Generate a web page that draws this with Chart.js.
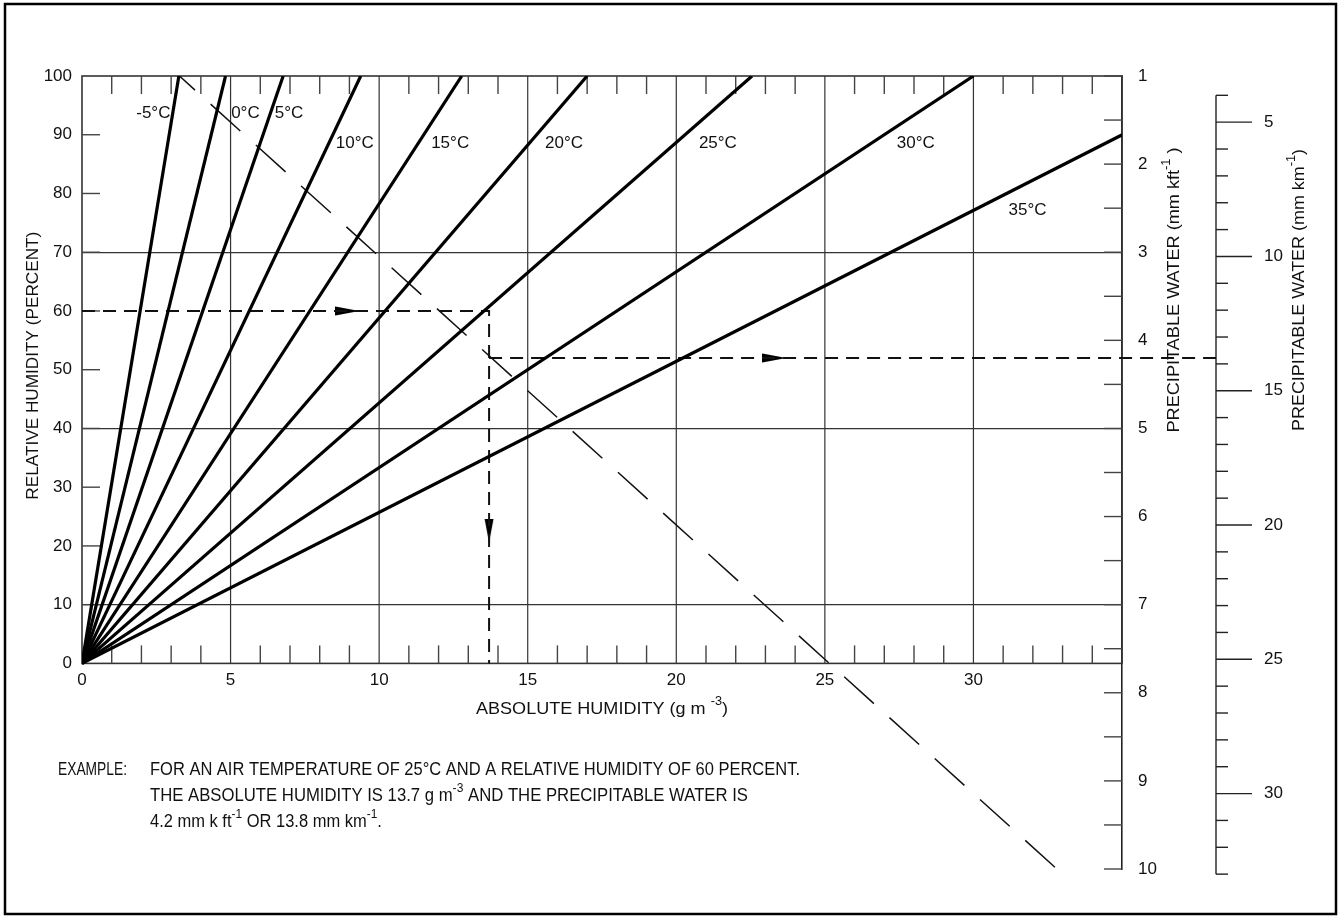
<!DOCTYPE html>
<html>
<head>
<meta charset="utf-8">
<script src="https://cdn.jsdelivr.net/npm/chart.js@4.4.0/dist/chart.umd.min.js"></script>
<style>
  body { margin: 0; background: #fff; }
  canvas { display: block; }
</style>
</head>
<body>
<canvas id="chart" width="1338" height="917"></canvas>
<script>
// saturation lines: temperature -> absolute humidity at 100 % RH (g m-3)
const tempLabels = ['-5°C', '0°C', '5°C', '10°C', '15°C', '20°C', '25°C', '30°C', '35°C'];
const satHumidity = [3.26, 4.83, 6.77, 9.38, 12.78, 17.0, 22.55, 30.0, 38.9];
// where each temperature label sits (absolute humidity, RH)
const labelX = [2.4, 5.5, 6.97, 9.18, 12.39, 16.22, 21.4, 28.06, 31.82];
const labelY = [93.6, 93.6, 93.6, 88.6, 88.6, 88.6, 88.6, 88.6, 77.1];

// axes
const xTicks = [0, 5, 10, 15, 20, 25, 30];
const xGrid = [5, 10, 15, 20, 25, 30];
const rhTicks = [0, 10, 20, 30, 40, 50, 60, 70, 80, 90, 100];
const rhGrid = [10, 40, 70];
const kftTicks = [1, 2, 3, 4, 5, 6, 7, 8, 9, 10];
const kmLabels = [5, 10, 15, 20, 25, 30];
const kmRange = [4, 33];

// conversion line: absolute humidity -> precipitable water (mm kft-1)
const convHumidity = [3.28, 32.81];
const convWater = [1, 10];

// worked example
const exampleHumidity = 13.7;
const exampleRH = 60;
const exampleWater = 4.2;
const waterLineEnd = 38.2;
const arrowRH = [{x: 8.93, y: 60}, {x: 13.7, y: 22.6}];
const arrowRHAngle = [0, 90];
const arrowWater = [{x: 23.3, y: 4.2}];

const FONT = "'Liberation Sans', Arial, sans-serif";
const INK = '#111';

function makeArrow() {
    const c = document.createElement('canvas');
    c.width = 24;
    c.height = 10;
    const g = c.getContext('2d');
    g.fillStyle = '#000';
    g.beginPath();
    g.moveTo(0, 0.5);
    g.lineTo(24, 5);
    g.lineTo(0, 9.5);
    g.closePath();
    g.fill();
    return c;
}
const arrow = makeArrow();

// text with superscripts; squeezed to a target width or by a factor
function richText(ctx, parts, x, y, opt = {}) {
    const size = opt.size || 17;
    const base = `${size}px ${FONT}`;
    const small = `${Math.round(size * 0.72)}px ${FONT}`;
    let w = 0;
    parts.forEach(([t, sup]) => {
        ctx.font = sup ? small : base;
        w += ctx.measureText(t).width;
    });
    const sx = opt.width ? opt.width / w : (opt.sx || 1);
    ctx.save();
    ctx.translate(x, y);
    if (opt.rotate) ctx.rotate(opt.rotate);
    ctx.scale(sx, 1);
    ctx.fillStyle = INK;
    ctx.textAlign = 'left';
    ctx.textBaseline = 'middle';
    let cx = opt.align === 'center' ? -w / 2 : 0;
    parts.forEach(([t, sup]) => {
        ctx.font = sup ? small : base;
        ctx.fillText(t, cx, sup ? -size * 0.42 : 0);
        cx += ctx.measureText(t).width;
    });
    ctx.restore();
    return sx;
}

function seg(ctx, x1, y1, x2, y2) {
    ctx.beginPath();
    ctx.moveTo(x1, y1);
    ctx.lineTo(x2, y2);
    ctx.stroke();
}

// keep the label overhang of the vertical scales from shrinking the plot
function fixScale(width) {
    return s => {
        s.width = width;
        s.paddingTop = 0;
        s.paddingBottom = 0;
    };
}

const decor = {
    id: 'decor',
    beforeDraw(chart) {
        const {ctx} = chart;
        ctx.save();
        ctx.strokeStyle = '#000';
        ctx.lineWidth = 2.5;
        ctx.strokeRect(5, 4, 1331, 910);
        ctx.restore();
    },
    beforeDatasetsDraw(chart) {
        const {ctx, scales: {x, y, y2, y3}} = chart;
        const top = y.getPixelForValue(100);
        const bottom = y.getPixelForValue(0);
        const left = x.getPixelForValue(0);
        const right = x.getPixelForValue(35);
        ctx.save();
        ctx.strokeStyle = '#333';
        ctx.lineWidth = 1.2;
        xGrid.forEach(v => {
            const px = x.getPixelForValue(v);
            seg(ctx, px, top, px, bottom);
        });
        ctx.lineWidth = 1.6;
        ctx.strokeRect(left, top, right - left, bottom - top);

        // inward tick marks
        ctx.lineWidth = 1.4;
        ctx.strokeStyle = '#444';
        for (let v = 1; v < 35; v++) {
            if (v % 5 === 0) continue;
            const px = x.getPixelForValue(v);
            seg(ctx, px, top, px, top + 18);
            seg(ctx, px, bottom, px, bottom - 18);
        }
        rhTicks.forEach(v => {
            if (v === 0 || v === 100) return;
            const py = y.getPixelForValue(v);
            seg(ctx, left, py, left + 18, py);
        });
        for (let v = kftTicks[0]; v <= kftTicks[kftTicks.length - 1]; v += 0.5) {
            const py = y2.getPixelForValue(v);
            seg(ctx, right - 18, py, right, py);
        }

        // km scale: axis line and outward ticks
        const kx = y3.left;
        ctx.strokeStyle = '#222';
        seg(ctx, kx, y3.getPixelForValue(kmRange[0]), kx, y3.getPixelForValue(kmRange[1]));
        for (let v = kmRange[0]; v <= kmRange[1]; v++) {
            const py = y3.getPixelForValue(v);
            seg(ctx, kx, py, kx + (v % 5 === 0 ? 36 : 12), py);
        }
        ctx.restore();
    },
    afterDraw(chart) {
        const {ctx, scales: {x, y, y3}} = chart;
        ctx.save();
        ctx.fillStyle = INK;
        ctx.font = `17px ${FONT}`;
        ctx.textAlign = 'center';
        ctx.textBaseline = 'middle';
        tempLabels.forEach((t, i) => {
            ctx.fillText(t, x.getPixelForValue(labelX[i]), y.getPixelForValue(labelY[i]));
        });
        ctx.restore();

        const midX = (x.left + x.right) / 2;
        richText(ctx, [['ABSOLUTE HUMIDITY (g m ', 0], ['-3', 1], [')', 0]], midX, 709,
            {align: 'center', width: 252});
        richText(ctx, [['RELATIVE HUMIDITY (PERCENT)', 0]], 33, y.getPixelForValue(50) - 4,
            {align: 'center', width: 268, rotate: -Math.PI / 2});
        richText(ctx, [['PRECIPITABLE WATER (mm kft', 0], ['-1', 1], [' )', 0]], x.right + 52, 290,
            {align: 'center', width: 285, rotate: -Math.PI / 2});
        richText(ctx, [['PRECIPITABLE WATER (mm km', 0], ['-1', 1], [')', 0]], y3.left + 83, 290,
            {align: 'center', width: 282, rotate: -Math.PI / 2});

        const ex = {size: 18};
        richText(ctx, [['EXAMPLE:', 0]], 58, 770, {...ex, width: 69});
        const sx = richText(ctx, [['FOR AN AIR TEMPERATURE OF 25°C AND A RELATIVE HUMIDITY OF 60 PERCENT.', 0]],
            150, 770, {...ex, width: 650});
        richText(ctx, [['THE ABSOLUTE HUMIDITY IS 13.7 g m', 0], ['-3', 1], [' AND THE PRECIPITABLE WATER IS', 0]],
            150, 796, {...ex, width: 598});
        richText(ctx, [['4.2 mm k ft', 0], ['-1', 1], [' OR 13.8 mm km', 0], ['-1', 1], ['.', 0]],
            150, 822, {...ex, sx});
    }
};

const lineSets = tempLabels.map((t, i) => ({
    label: t,
    data: [{x: 0, y: 0}, {x: satHumidity[i], y: 100}],
    showLine: true,
    borderColor: '#000',
    borderWidth: 3.2,
    pointRadius: 0,
    xAxisID: 'x',
    yAxisID: 'y'
}));

const dashed = {borderColor: '#111', borderWidth: 2, borderDash: [13, 8], pointRadius: 0, showLine: true};

const datasets = [
    ...lineSets,
    {
        label: 'conversion',
        data: convHumidity.map((v, i) => ({x: v, y: convWater[i]})),
        showLine: true,
        borderColor: '#111',
        borderWidth: 1.5,
        borderDash: [40, 21],
        borderDashOffset: 19,
        pointRadius: 0,
        yAxisID: 'y2'
    },
    {
        label: 'example RH',
        data: [{x: 0, y: exampleRH}, {x: exampleHumidity, y: exampleRH}, {x: exampleHumidity, y: 0}],
        ...dashed,
        yAxisID: 'y'
    },
    {
        label: 'example water',
        data: [{x: exampleHumidity, y: exampleWater}, {x: waterLineEnd, y: exampleWater}],
        ...dashed,
        clip: false,
        yAxisID: 'y2'
    },
    {
        label: 'arrows',
        data: arrowRH,
        showLine: false,
        pointStyle: arrow,
        pointRadius: 6,
        rotation: arrowRHAngle,
        yAxisID: 'y'
    },
    {
        label: 'arrows 2',
        data: arrowWater,
        showLine: false,
        pointStyle: arrow,
        pointRadius: 6,
        rotation: 0,
        yAxisID: 'y2'
    }
];

Chart.defaults.font.family = FONT;
Chart.defaults.font.size = 17;
Chart.defaults.color = INK;

new Chart(document.getElementById('chart'), {
    type: 'scatter',
    data: {datasets},
    options: {
        responsive: false,
        devicePixelRatio: 1,
        animation: false,
        events: [],
        layout: {padding: {top: 76, bottom: 48, left: 0, right: 0}},
        plugins: {legend: {display: false}, tooltip: {enabled: false}},
        scales: {
            x: {
                type: 'linear',
                min: 0,
                max: 35,
                position: {y: 0},
                grid: {display: false},
                border: {display: false},
                afterBuildTicks: s => { s.ticks = xTicks.map(v => ({value: v})); },
                ticks: {padding: -1, autoSkip: false, maxRotation: 0}
            },
            y: {
                type: 'linear',
                min: -35,
                max: 100,
                position: 'left',
                afterFit: fixScale(82),
                afterBuildTicks: s => { s.ticks = rhTicks.map(v => ({value: v})); },
                grid: {
                    drawTicks: false,
                    lineWidth: 1.2,
                    color: c => rhGrid.includes(c.tick && c.tick.value) ? '#333' : 'rgba(0,0,0,0)'
                },
                border: {display: false},
                ticks: {padding: 10}
            },
            y2: {
                type: 'linear',
                reverse: true,
                min: 1,
                max: 10,
                position: 'right',
                afterFit: fixScale(94),
                afterBuildTicks: s => { s.ticks = kftTicks.map(v => ({value: v})); },
                grid: {display: false, drawOnChartArea: false},
                border: {display: true, color: '#222', width: 1.6},
                ticks: {padding: 8}
            },
            y3: {
                type: 'linear',
                reverse: true,
                min: 1 / 0.3048,
                max: 10 / 0.3048,
                position: 'right',
                afterFit: fixScale(122),
                afterBuildTicks: s => { s.ticks = kmLabels.map(v => ({value: v})); },
                grid: {display: false, drawOnChartArea: false},
                border: {display: false},
                ticks: {padding: 40}
            }
        }
    },
    plugins: [decor]
});
</script>
</body>
</html>
